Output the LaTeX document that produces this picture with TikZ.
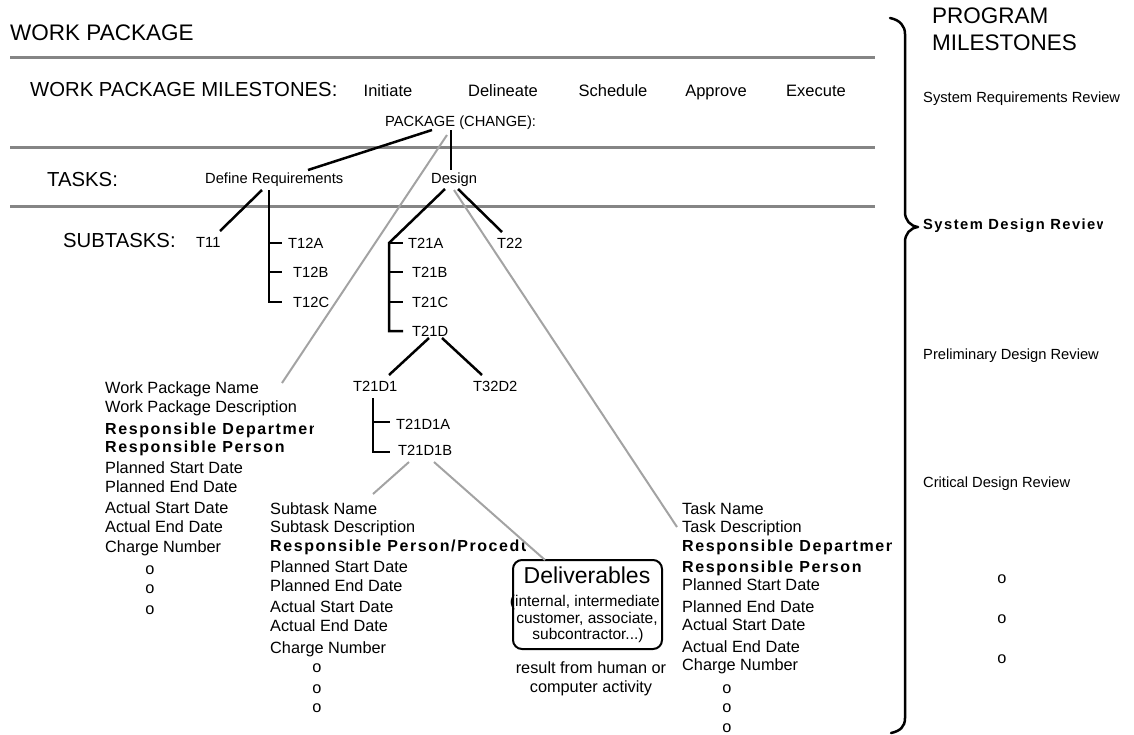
\documentclass[tikz,border=0pt]{standalone}
\usepackage{fontspec}
\setmainfont{Liberation Sans}
\newfontfamily\spacedbold[LetterSpace=10]{Liberation Sans}
\begin{document}
\begin{tikzpicture}[x=1pt,y=-1pt,
  lab/.style={inner sep=0pt, anchor=base west},
  big/.style={lab, font=\fontsize{22.5}{26}\selectfont, yshift=-8pt},
  hdr/.style={lab, font=\fontsize{20.3}{24}\selectfont, yshift=-7.3pt},
  ms/.style={lab, anchor=base, font=\fontsize{16.5}{20}\selectfont, yshift=-5.9pt},
  sm/.style={lab, font=\fontsize{14.7}{18}\selectfont, yshift=-5.3pt},
  smc/.style={sm, anchor=base},
  blk/.style={lab, font=\fontsize{16.3}{20}\selectfont, yshift=-5.8pt},
  blkb/.style={lab, font=\spacedbold\bfseries\fontsize{16}{20}\selectfont, yshift=-5.7pt},
  rvb/.style={lab, font=\spacedbold\bfseries\fontsize{14.7}{18}\selectfont, yshift=-5.3pt},
  dot/.style={blk, anchor=base},
  dlvbody/.style={inner sep=0pt, anchor=base, font=\fontsize{15.5}{18}\selectfont, yshift=-5.5pt},
  rule/.style={line width=3pt, draw=black!48},
  tree/.style={line width=2.5pt, draw=black},
  link/.style={line width=2pt, draw=black!36},
  brace/.style={line width=2.5pt, draw=black, line cap=round, line join=round},
]
\useasboundingbox (0,0) rectangle (1134,734);

% band separators
\draw[rule] (10,57) -- (875,57);
\draw[rule] (10,147) -- (875,147);
\draw[rule] (10,206) -- (875,206);

% headings
\node[big] (wp) at (10,32) {WORK PACKAGE};
\node[hdr] (wpm) at (30,89) {WORK PACKAGE MILESTONES:};
\node[ms] (m1) at (388,91) {Initiate};
\node[ms] (m2) at (503,91) {Delineate};
\node[ms] (m3) at (613,91) {Schedule};
\node[ms] (m4) at (716,91) {Approve};
\node[ms] (m5) at (816,91) {Execute};
\node[sm] (pkg) at (385,121) {PACKAGE (CHANGE):};
\node[hdr] (tasks) at (47,179) {TASKS:};
\node[sm] (defreq) at (205,178) {Define Requirements};
\node[sm] (design) at (431,178) {Design};
\node[hdr] (subtasks) at (63,240) {SUBTASKS:};

% subtask labels
\node[sm] (t11) at (196,242) {T11};
\node[sm] (t12a) at (288,243) {T12A};
\node[sm] (t12b) at (293,272) {T12B};
\node[sm] (t12c) at (293,302) {T12C};
\node[sm] (t21a) at (408,243) {T21A};
\node[sm] (t21b) at (412,272) {T21B};
\node[sm] (t21c) at (412,302) {T21C};
\node[sm] (t21d) at (412,331) {T21D};
\node[sm] (t22) at (497,243) {T22};
\node[sm] (t21d1) at (353,386) {T21D1};
\node[sm] (t32d2) at (473,386) {T32D2};
\node[sm] (t21d1a) at (396,424) {T21D1A};
\node[sm] (t21d1b) at (398,450) {T21D1B};

% connector end points
\coordinate (pkgA) at (432,130);
\coordinate (pkgB) at (451,130);
\coordinate (pkgC) at (447,135);
\coordinate (drTop) at (308,170);
\coordinate (dsTop) at (451,170);
\coordinate (drL) at (262,190);
\coordinate (drV) at (269,190);
\coordinate (t11e) at (220,231);
\coordinate (dsL) at (445,189);
\coordinate (dsR) at (458,189);
\coordinate (dsG) at (454,190);
\coordinate (t21top) at (389,243);
\coordinate (t22e) at (502,232);
\coordinate (tdL) at (429,338);
\coordinate (tdR) at (442,338);
\coordinate (td1e) at (389,375);
\coordinate (td2e) at (482,375);
\coordinate (d1top) at (373,398);
\coordinate (d1bL) at (409,462);
\coordinate (d1bR) at (434,462);
\coordinate (wpEnd) at (282,383);
\coordinate (stEnd) at (373,494);
\coordinate (tkEnd) at (677,527);

% detail links (grey)
\draw[link] (pkgC) -- (wpEnd);
\draw[link] (dsG) -- (tkEnd);
\draw[link] (d1bL) -- (stEnd);

% deliverables box
\node[draw, line width=2pt, rounded corners=9pt, minimum width=149pt, minimum height=89pt, inner sep=0pt] (dlv) at (587.5,604.5) {};
\coordinate (dlvIn) at (545,560);
\draw[link] (d1bR) -- (dlvIn);
\node[inner sep=0pt, anchor=base, font=\fontsize{23}{26}\selectfont, yshift=-8.2pt] (dlvt) at (587,575) {Deliverables};
\node[dlvbody] (dlv1) at (587,601) {(internal, intermediate,};
\node[dlvbody] (dlv2) at (587,618) {customer, associate,};
\node[dlvbody] (dlv3) at (588,634) {subcontractor...)};
\node[inner sep=0pt, anchor=base, font=\fontsize{16.3}{20}\selectfont, yshift=-5.8pt] (res1) at (591,668) {result from human or};
\node[inner sep=0pt, anchor=base, font=\fontsize{16.3}{20}\selectfont, yshift=-5.8pt] (res2) at (591,687) {computer activity};

% breakdown tree
\draw[tree] (pkgA) -- (drTop);
\draw[tree] (pkgB) -- (dsTop);
\draw[tree] (drL) -- (t11e);
\draw[tree] (drV) -- (269,302) -- (282,302);
\draw[tree] (269,243) -- (282,243);
\draw[tree] (269,272) -- (282,272);
\draw[tree] (dsL) -- (t21top) -- (389,331) -- (403,331);
\draw[tree] (389,243) -- (403,243);
\draw[tree] (389,272) -- (403,272);
\draw[tree] (389,302) -- (403,302);
\draw[tree] (dsR) -- (t22e);
\draw[tree] (tdL) -- (td1e);
\draw[tree] (tdR) -- (td2e);
\draw[tree] (d1top) -- (373,452) -- (390,452);
\draw[tree] (373,422) -- (390,422);

% work package attributes
\node[blk] (wpa1) at (105,388) {Work Package Name};
\node[blk] (wpa2) at (105,407) {Work Package Description};
\begin{scope}
  \clip (100,412) rectangle (313,440);
  \node[blkb] (wpa3) at (105,429) {Responsible Department};
\end{scope}
\node[blkb] (wpa4) at (105,447) {Responsible Person};
\node[blk] (wpa5) at (105,468) {Planned Start Date};
\node[blk] (wpa6) at (105,487) {Planned End Date};
\node[blk] (wpa7) at (105,508) {Actual Start Date};
\node[blk] (wpa8) at (105,527) {Actual End Date};
\node[blk] (wpa9) at (105,547) {Charge Number};
\node[dot] (wpo1) at (150,569) {o};
\node[dot] (wpo2) at (150,588) {o};
\node[dot] (wpo3) at (150,609) {o};

% subtask attributes
\node[blk] (sta1) at (270,509) {Subtask Name};
\node[blk] (sta2) at (270,527) {Subtask Description};
\begin{scope}
  \clip (265,533) rectangle (525,558);
  \node[blkb] (sta3) at (270,546) {Responsible Person/Procedure};
\end{scope}
\node[blk] (sta4) at (270,567) {Planned Start Date};
\node[blk] (sta5) at (270,586) {Planned End Date};
\node[blk] (sta6) at (270,607) {Actual Start Date};
\node[blk] (sta7) at (270,626) {Actual End Date};
\node[blk] (sta8) at (270,648) {Charge Number};
\node[dot] (sto1) at (317,667) {o};
\node[dot] (sto2) at (317,688) {o};
\node[dot] (sto3) at (317,707) {o};

% task attributes
\node[blk] (tka1) at (682,509) {Task Name};
\node[blk] (tka2) at (682,527) {Task Description};
\begin{scope}
  \clip (677,533) rectangle (891,558);
  \node[blkb] (tka3) at (682,546) {Responsible Department};
\end{scope}
\node[blkb] (tka4) at (682,567) {Responsible Person};
\node[blk] (tka5) at (682,585) {Planned Start Date};
\node[blk] (tka6) at (682,607) {Planned End Date};
\node[blk] (tka7) at (682,625) {Actual Start Date};
\node[blk] (tka8) at (682,647) {Actual End Date};
\node[blk] (tka9) at (682,665) {Charge Number};
\node[dot] (tko1) at (727,688) {o};
\node[dot] (tko2) at (727,707) {o};
\node[dot] (tko3) at (727,727) {o};

% program milestones brace
\draw[brace] (890,18) .. controls (900,20) and (905,26) .. (905,34)
  -- (905,212) .. controls (905,220) and (910,226) .. (918,227)
  .. controls (910,228) and (905,234) .. (905,242)
  -- (905,718) .. controls (905,727) and (900,731) .. (891,733);
\node[big] (pm1) at (932,15) {PROGRAM};
\node[big] (pm2) at (932,42) {MILESTONES};
\node[sm] (srr) at (923,97) {System Requirements Review};
\begin{scope}
  \clip (920,212) rectangle (1102,238);
  \node[rvb] (sdr) at (923,224) {System Design Review};
\end{scope}
\node[sm] (pdr) at (923,354) {Preliminary Design Review};
\node[sm] (cdr) at (923,482) {Critical Design Review};
\node[dot] (pmo1) at (1002,578) {o};
\node[dot] (pmo2) at (1002,618) {o};
\node[dot] (pmo3) at (1002,658) {o};
\end{tikzpicture}
\end{document}
